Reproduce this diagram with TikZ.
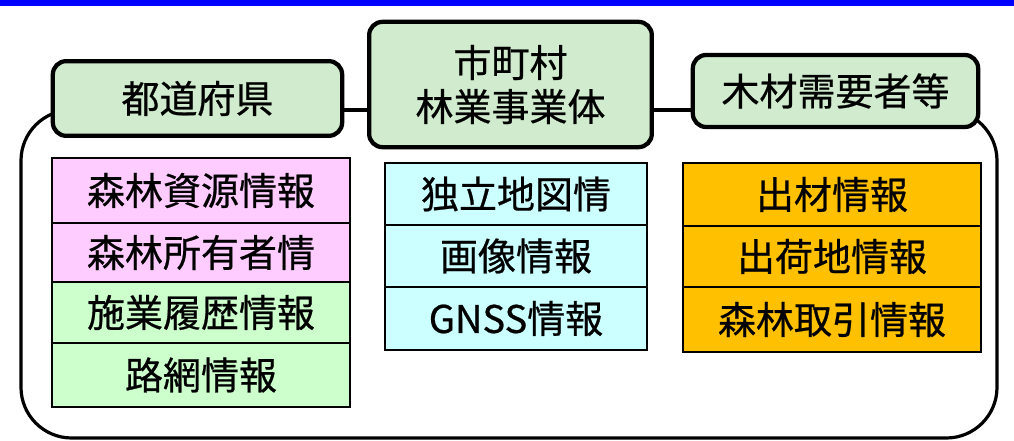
\documentclass[tikz,border=0pt]{standalone}
\usepackage{fontspec}
\setmainfont{Noto Sans CJK JP}[FakeBold=0.6]
\definecolor{hdrgreen}{HTML}{D0EBCD}
\definecolor{pinkc}{HTML}{FFCCFF}
\definecolor{greenc}{HTML}{CCFFCC}
\definecolor{cyanc}{HTML}{CCFFFF}
\definecolor{orangec}{HTML}{FFC000}
\definecolor{barblue}{HTML}{0000FF}
\tikzset{
  x=0.75pt, y=-0.75pt,
  hdr/.style={draw=black, line width=3.2pt, fill=hdrgreen, rounded corners=10pt,
    inner sep=0pt, align=center, font=\fontsize{28.5}{33}\selectfont},
  cell/.style={draw=black, line width=1.1pt, inner sep=0pt,
    font=\fontsize{28.5}{33}\selectfont},
  link/.style={draw=black, line width=2.4pt},
  frame/.style={draw=black, line width=2.4pt, rounded corners=38pt}
}
\begin{document}
\begin{tikzpicture}
\useasboundingbox (0,0) rectangle (1014,441);
% top blue bar
\fill[barblue] (0,0) rectangle (1014,6);
% container
\draw[frame] (21,110) rectangle (997,438);
% headers
\node[hdr, minimum width=217pt, minimum height=56pt] (pref) at (197.5,98.5) {都道府県};
\node[hdr, minimum width=212pt, minimum height=94pt] (muni) at (510.5,84.5) {市町村\\林業事業体};
\node[hdr, minimum width=214pt, minimum height=54pt] (wood) at (835.5,91) {木材需要者等};
\draw[link] (pref.east |- 0,110) -- (muni.west |- 0,110);
\draw[link] (muni.east |- 0,110) -- (wood.west |- 0,110);
% left column
\node[cell, fill=pinkc, minimum width=223.5pt, minimum height=48.75pt] (l1) at (201,190.5) {森林資源情報};
\node[cell, fill=pinkc, minimum width=223.5pt, minimum height=44.25pt] (l2) at (201,252.5) {森林所有者情};
\node[cell, fill=greenc, minimum width=223.5pt, minimum height=45.75pt] (l3) at (201,312.5) {施業履歴情報};
\node[cell, fill=greenc, minimum width=223.5pt, minimum height=48pt] (l4) at (201,375) {路網情報};
% middle column
\node[cell, fill=cyanc, minimum width=196.5pt, minimum height=46.5pt] (m1) at (516,194) {独立地図情};
\node[cell, fill=cyanc, minimum width=196.5pt, minimum height=46.5pt] (m2) at (516,256) {画像情報};
\node[cell, fill=cyanc, minimum width=196.5pt, minimum height=47.25pt] (m3) at (516,318.5) {GNSS情報};
% right column
\node[cell, fill=orangec, minimum width=223.5pt, minimum height=47.25pt] (r1) at (832,194.5) {出材情報};
\node[cell, fill=orangec, minimum width=223.5pt, minimum height=45.75pt] (r2) at (832,256.5) {出荷地情報};
\node[cell, fill=orangec, minimum width=223.5pt, minimum height=48.75pt] (r3) at (832,319.5) {森林取引情報};
\end{tikzpicture}
\end{document}
